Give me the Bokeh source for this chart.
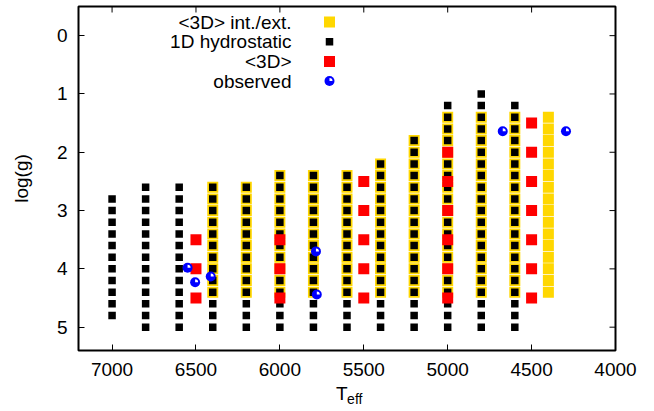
import numpy as np
from bokeh.plotting import figure
from bokeh.models import Range1d, FixedTicker, LinearAxis
from bokeh.core.properties import value
from bokeh.embed import file_html
from bokeh.resources import INLINE

# ---------------- data ----------------
# 1D hydrostatic model grid: Teff columns with lowest / highest log(g); grid step 0.2
hydro_teff = [7000, 6800, 6600, 6400, 6200, 6000, 5800, 5600, 5400, 5200, 5000, 4800, 4600]
hydro_logg_min = [2.8, 2.6, 2.6, 2.6, 2.6, 2.4, 2.4, 2.4, 2.2, 1.8, 1.2, 1.0, 1.2]
hydro_logg_max = [4.8, 5.0, 5.0, 5.0, 5.0, 5.0, 5.0, 5.0, 5.0, 5.0, 5.0, 5.0, 5.0]
hydro_step = 0.2

# <3D> interpolated / extrapolated grid; step 0.2
intext_teff = [6400, 6200, 6000, 5800, 5600, 5400, 5200, 5000, 4800, 4600, 4400]
intext_logg_min = [2.6, 2.6, 2.4, 2.4, 2.4, 2.2, 1.8, 1.4, 1.4, 1.4, 1.4]
intext_logg_max = [4.4, 4.4, 4.4, 4.4, 4.4, 4.4, 4.4, 4.4, 4.4, 4.4, 4.4]
intext_step = 0.2

# <3D> models; step 0.5
avg3d_teff = [6500, 6000, 5500, 5000, 4500]
avg3d_logg_min = [3.5, 3.5, 2.5, 2.0, 1.5]
avg3d_logg_max = [4.5, 4.5, 4.5, 4.5, 4.5]
avg3d_step = 0.5

# observed stars
obs_teff = [6550, 6505, 6412, 5785, 5780, 4672, 4295]
obs_logg = [3.98, 4.23, 4.13, 3.70, 4.44, 1.64, 1.64]

x_ticks = [7000, 6500, 6000, 5500, 5000, 4500, 4000]
y_ticks = [0, 1, 2, 3, 4, 5]
legend_labels = ["<3D> int./ext.", "1D hydrostatic", "<3D>", "observed"]

X_START, X_END = 7200, 4000
Y_BOTTOM, Y_TOP = 5.4, -0.5


def expand(teffs, lows, highs, step):
    xs, ys = [], []
    for t, lo, hi in zip(teffs, lows, highs):
        n = int(round((hi - lo) / step)) + 1
        for k in range(n):
            xs.append(t)
            ys.append(round(lo + k * step, 3))
    return xs, ys


hx, hy = expand(hydro_teff, hydro_logg_min, hydro_logg_max, hydro_step)
ix, iy = expand(intext_teff, intext_logg_min, intext_logg_max, intext_step)
ax_, ay_ = expand(avg3d_teff, avg3d_logg_min, avg3d_logg_max, avg3d_step)

# ---------------- layout ----------------
W, H = 654, 411
FL, FR, FT, FB = 78, 615, 6, 350  # frame edges in pixels
TICK = 6
NBSP = "\u00a0"


def px_to_x(px):
    return X_START + (px - FL) / (FR - FL) * (X_END - X_START)


def py_to_y(py):
    return Y_TOP + (py - FT) / (FB - FT) * (Y_BOTTOM - Y_TOP)


FONT = "Liberation Sans"
FS = "19px"
YELLOW = "#ffd700"

p = figure(width=W, height=H,
           x_range=Range1d(X_START, X_END), y_range=Range1d(Y_BOTTOM, Y_TOP),
           output_backend="svg", toolbar_location=None,
           min_border_left=FL, min_border_right=W - FR,
           min_border_top=FT, min_border_bottom=H - FB)
p.grid.visible = False
p.outline_line_color = "black"
p.outline_line_width = 2
p.background_fill_color = "white"
p.border_fill_color = "white"

for a in (p.xaxis[0], p.yaxis[0]):
    a.axis_line_color = None
    a.major_tick_in = TICK
    a.major_tick_out = 0
    a.minor_tick_in = 0
    a.minor_tick_out = 0
    a.major_tick_line_color = "black"
    a.major_tick_line_width = 1
    a.major_label_text_font = FONT
    a.major_label_text_font_size = FS
    a.major_label_text_color = "black"
    a.axis_label_text_font = FONT
    a.axis_label_text_font_style = "normal"
    a.axis_label_text_color = "black"

p.xaxis.ticker = FixedTicker(ticks=x_ticks)
p.yaxis.ticker = FixedTicker(ticks=y_ticks)
p.xaxis.major_label_standoff = 12
p.yaxis.major_label_standoff = 11
p.yaxis.axis_label = "log(g)"
p.yaxis.axis_label_text_font_size = FS
p.yaxis.axis_label_standoff = 22

# x title "T_eff": main letter on the x axis, subscript on a tick-less second axis below
p.xaxis.axis_label = "T" + NBSP * 2
p.xaxis.axis_label_text_font_size = FS
p.xaxis.axis_label_standoff = 4
sub_ax = LinearAxis(ticker=FixedTicker(ticks=[]), axis_line_color=None,
                    major_tick_in=0, major_tick_out=0, minor_tick_in=0, minor_tick_out=0,
                    axis_label=NBSP * 4 + "eff", axis_label_text_font=FONT,
                    axis_label_text_font_size="14px", axis_label_text_font_style="normal",
                    axis_label_text_color="black", axis_label_standoff=-16)
p.add_layout(sub_ax, "below")

# mirrored ticks on the top and right edges of the frame
p.segment(x0=x_ticks, x1=x_ticks, y0=[py_to_y(FT)] * len(x_ticks),
          y1=[py_to_y(FT + TICK)] * len(x_ticks), line_color="black", line_width=1)
p.segment(x0=[px_to_x(FR)] * len(y_ticks), x1=[px_to_x(FR - TICK)] * len(y_ticks),
          y0=y_ticks, y1=y_ticks, line_color="black", line_width=1)

# ---------------- marks ----------------
p.scatter(ix, iy, marker="square", size=11, fill_color=YELLOW, line_color=None)
p.scatter(hx, hy, marker="square", size=7.5, fill_color="black", line_color=None)
p.scatter(ax_, ay_, marker="square", size=11, fill_color="#ff0000", line_color=None)
p.scatter(obs_teff, obs_logg, marker="circle", size=10, fill_color="#0000ff", line_color=None)
p.wedge(obs_teff, obs_logg, radius=3, radius_units="screen", start_angle=0,
        end_angle=np.pi / 2, fill_color="white", line_color=None)

# ---------------- legend (gnuplot style: text left, symbol right) ----------------
rows_py = [21.5, 41.3, 61.0, 80.5]
lx_text = px_to_x(291)
lx_sym = px_to_x(329)
ly = [py_to_y(v) for v in rows_py]
p.text(x=[lx_text] * 4, y=ly, text=legend_labels, text_font=value(FONT),
       text_font_size=value(FS), text_align="right", text_baseline="middle",
       text_color="black")
p.scatter([lx_sym], [ly[0]], marker="square", size=11, fill_color=YELLOW, line_color=None)
p.scatter([lx_sym], [ly[1]], marker="square", size=7.5, fill_color="black", line_color=None)
p.scatter([lx_sym], [ly[2]], marker="square", size=11, fill_color="#ff0000", line_color=None)
p.scatter([lx_sym], [ly[3]], marker="circle", size=10, fill_color="#0000ff", line_color=None)
p.wedge([lx_sym], [ly[3]], radius=3, radius_units="screen", start_angle=0,
        end_angle=np.pi / 2, fill_color="white", line_color=None)

open("out.html", "w").write(file_html(p, INLINE))
